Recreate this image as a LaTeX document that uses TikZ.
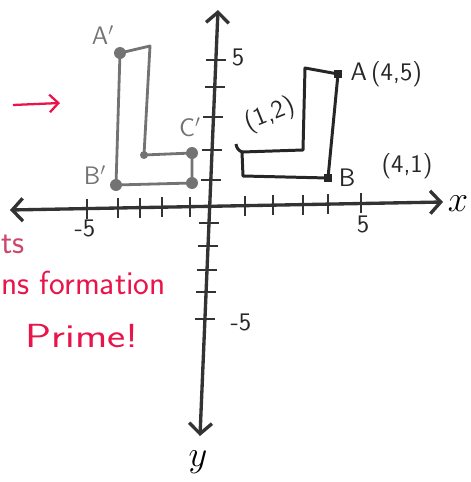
\documentclass[tikz,border=0pt]{standalone}
\usetikzlibrary{positioning,arrows.meta,calc}
\definecolor{penred}{RGB}{232,20,74}
\definecolor{penpink}{RGB}{205,70,110}
\begin{document}
\begin{tikzpicture}[
    axis/.style={line width=1.9pt, draw=black!80, {Straight Barb[length=6pt,width=13pt]}-{Straight Barb[length=6pt,width=13pt]}},
    axtick/.style={line width=1.5pt, draw=black!80},
    shapeL/.style={line width=1.7pt, draw=black!85, line join=round},
    imageL/.style={line width=1.6pt, draw=black!55, line join=round},
    ptblack/.style={rectangle, fill=black!85, inner sep=2.4pt},
    ptgray/.style={circle, fill=black!55, inner sep=2.4pt},
    axlabel/.style={font=\Large\sffamily\color{black!85}},
    ptlabel/.style={font=\Large\sffamily\color{black!85}},
    imlabel/.style={font=\Large\sffamily\color{black!55}},
    note/.style={font=\fontsize{19}{22}\selectfont\sffamily\color{penred}, inner sep=0pt}
]
    \useasboundingbox (-4.24,-5.54) rectangle (5.18,4.10);

    % Axes
    \coordinate (xl) at (-4.04,-0.10);
    \coordinate (xr) at (4.62,0.06);
    \coordinate (yb) at (-0.24,-4.62);
    \coordinate (yt) at (0.12,3.90);
    \draw[axis] (xl) -- (xr);
    \draw[axis] (yb) -- (yt);
    \node[axlabel, font=\huge] (xlab) at (4.92,0.02) {$x$};
    \node[axlabel, font=\huge] (ylab) at (-0.28,-5.14) {$y$};

    % Ticks
    \foreach \x in {-2.50,-1.88,-1.44,-1.00,-0.44,0.66,1.22,1.82,2.32,2.98} {
        \draw[axtick] ({\x},{0.0185*\x-0.225}) -- ++(0,0.40);
    }
    \foreach \y in {2.90,2.36,1.76,1.10,0.50,-0.36,-0.82,-1.30,-1.74,-2.28} {
        \draw[axtick] ({0.0423*\y-0.245},{\y}) -- ++(0.40,0);
    }
    \node[axlabel] (y5) at (0.52,2.96) {5};
    \node[axlabel] (ym5) at (0.58,-2.34) {-5};
    \node[axlabel] (xm5) at (-2.54,-0.46) {-5};
    \node[axlabel] (x5) at (3.02,-0.38) {5};

    % Original L
    \coordinate (A) at (2.52,2.62);
    \coordinate (Atl) at (1.86,2.74);
    \coordinate (Lin) at (1.82,1.10);
    \coordinate (C) at (0.60,1.06);
    \coordinate (Lbl) at (0.62,0.58);
    \coordinate (B) at (2.32,0.54);
    \draw[shapeL] (A) -- (Atl) -- (Lin) -- (C) -- (Lbl) -- (B) -- cycle;
    \draw[shapeL] (C) to[bend left=30] ++(-0.12,0.16);
    \node[ptblack] (Adot) at (A) {};
    \node[ptblack] (Bdot) at (B) {};
    \node[ptlabel, right=1pt of Adot] (Alab) {A\,(4,5)};
    \node[ptlabel, rotate=22] (Clab) at (1.16,1.80) {(1,2)};
    \node[ptlabel, right=0pt of Bdot] (Blab) {B};
    \node[ptlabel] (B41) at (3.90,0.78) {(4,1)};

    % Image L'
    \coordinate (Ap) at (-1.84,3.04);
    \coordinate (Aptr) at (-1.24,3.18);
    \coordinate (Lpin) at (-1.36,1.00);
    \coordinate (Cp) at (-0.40,1.04);
    \coordinate (Lpbr) at (-0.40,0.44);
    \coordinate (Bp) at (-1.92,0.40);
    \draw[imageL] (Ap) -- (Aptr) -- (Lpin) -- (Cp) -- (Lpbr) -- (Bp) -- cycle;
    \foreach \p in {Ap,Cp,Lpbr,Bp} {
        \node[ptgray] (\p dot) at (\p) {};
    }
    \node[ptgray, inner sep=1.6pt] (Lpindot) at (Lpin) {};
    \node[imlabel] (Aplab) at (-2.18,3.40) {A$'$};
    \node[imlabel] (Cplab) at (-0.44,1.56) {C$'$};
    \node[imlabel] (Bplab) at (-2.34,0.60) {B$'$};

    % Red notes
    \coordinate (arrL) at (-3.98,2.00);
    \coordinate (arrR) at (-3.04,2.04);
    \draw[line width=1.3pt, penred, -{Straight Barb[length=5pt,width=10pt]}] (arrL) -- (arrR);
    \node[note, text=penpink, anchor=west] (ts) at (-4.22,-0.78) {ts};
    \node[note, anchor=west] (trans) at (-4.22,-1.56) {ns formation};
    \node[note, xscale=1.3, transform shape] (prime) at (-2.60,-2.62) {Prime!};

\end{tikzpicture}
\end{document}
